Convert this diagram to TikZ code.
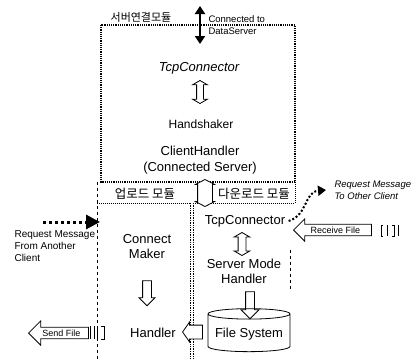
\documentclass[tikz,border=0pt]{standalone}
\usepackage{fontspec}
\setmainfont{Liberation Sans}
\newfontfamily\kofont{Noto Sans CJK KR}
\usetikzlibrary{shapes.arrows,shapes.geometric,arrows.meta}

\tikzset{
  txt/.style={font=\fontsize{13}{15}\selectfont, align=center},
  smalltxt/.style={font=\fontsize{9.5}{12}\selectfont, align=left},
  modname/.style={font=\kofont\fontsize{11}{12}\selectfont},
  hollow/.style={draw, line width=0.8pt, fill=white, minimum width=0pt},
  downarrow/.style={hollow, single arrow, shape border rotate=270},
  dblarrow/.style={hollow, double arrow, shape border rotate=90, double arrow tip angle=120},
  filearrow/.style={hollow, single arrow, shape border rotate=180,
    font=\fontsize{9}{10}\selectfont, inner sep=2pt}
}

\begin{document}
\begin{tikzpicture}[x=1pt, y=-1pt]
    \useasboundingbox (0,0) rectangle (416,359);

    % module borders
    \draw[densely dotted, line width=1.2pt] (101,25) rectangle (295,182);
    \draw[densely dotted, line width=1pt] (97,203) -- (295,203);
    \draw[densely dotted, line width=1pt] (295,182) -- (295,203);
    \draw[dashed] (97,182) -- (97,359);
    \draw[densely dotted, line width=0.7pt, double, double distance=2pt] (192,203) -- (192,359);
    \draw[dashed, thin] (290,250) -- (290,290);

    \node[modname] (srvmod) at (141,17) {서버연결모듈};
    \node[modname, font=\kofont\fontsize{12.5}{13}\selectfont] (upmod) at (145,194) {업로드 모듈};
    \node[modname, font=\kofont\fontsize{12.5}{13}\selectfont] (downmod) at (254,194) {다운로드 모듈};

    % server connection module
    \coordinate (dsup) at (200,6);
    \coordinate (dsdown) at (200,44);
    \draw[line width=2.5pt, {Triangle[length=8pt,width=10pt]}-{Triangle[length=8pt,width=10pt]}] (dsup) -- (dsdown);
    \node[smalltxt, anchor=west] (dstxt) at (205,25) {Connected to\\DataServer};

    \node[txt, font=\fontsize{13}{15}\selectfont\itshape] (tcp1) at (199,68) {TcpConnector};
    \node[dblarrow, inner sep=3pt, minimum height=23pt, double arrow head extend=4pt] (a1) at (200,92) {};
    \node[txt, font=\fontsize{12}{14}\selectfont] (hs) at (201,124) {Handshaker};
    \node[txt, font=\fontsize{13}{16}\selectfont] (ch) at (200,160) {ClientHandler\\(Connected Server)};

    \node[dblarrow, inner sep=7pt, minimum height=27pt, double arrow head extend=2pt,
      double arrow tip angle=125] (a2) at (205,193) {};

    % upload module
    \coordinate (rqs) at (43,222);
    \coordinate (rqe) at (100,222);
    \draw[dash pattern=on 3pt off 3pt, line width=3pt, -{Triangle[length=14pt,width=14pt]}] (rqs) -- (rqe);
    \node[smalltxt, font=\fontsize{10}{12}\selectfont, anchor=north west] (rqtxt) at (11,227) {Request Message\\From Another\\Client};

    \node[txt] (cm) at (147,247) {Connect\\Maker};
    \node[downarrow, inner sep=4pt, minimum height=25pt, single arrow head extend=3.5pt] (a3) at (147,291) {};
    \node[txt] (hd) at (153,333) {Handler};

    \node[filearrow, anchor=tip, minimum height=60pt, single arrow head extend=6.5pt] (send) at (28,333) {Send File};
    \draw[thin] (90,326) -- (90,339) (94,326) -- (94,339) (97,326) -- (97,339) (101,326) -- (104,326) -- (104,339) -- (101,339);

    % download module
    \node[txt] (tcp2) at (245,221) {TcpConnector};
    \node[dblarrow, inner sep=3.5pt, minimum height=23pt, double arrow head extend=4pt] (a4) at (242,244) {};
    \node[txt] (smh) at (244,271) {Server Mode\\Handler};
    \node[downarrow, inner sep=4pt, minimum height=27pt, single arrow head extend=4.5pt] (a5) at (250,303) {};
    \node[cylinder, shape border rotate=90, draw, line width=0.8pt, aspect=0.14,
      minimum width=82pt, minimum height=43pt, txt, font=\fontsize{13}{15}\selectfont] (fs) at (249,334) {File System};
    \node[hollow, single arrow, shape border rotate=180, inner sep=6.5pt, minimum height=20pt,
      single arrow head extend=3pt, single arrow tip angle=110] (a6) at (195,332) {};

    \node[filearrow, anchor=tip, minimum height=78pt, single arrow head extend=5.5pt] (recv) at (293,230) {Receive File};
    \draw[thin] (383,225) -- (381,225) -- (381,236) -- (383,236) (387,225) -- (387,236) (392,225) -- (394,225) -- (394,236) -- (392,236) (398,225) -- (398,236);

    \coordinate (rohead) at (326,190);
    \draw[dotted, line width=2pt, -{Triangle[length=8pt,width=10pt]}] (tcp2.east) .. controls (308,215) and (304,192) .. (rohead);
    \node[smalltxt, font=\fontsize{9.5}{12}\selectfont\itshape, anchor=west] (rotxt) at (331,190) {Request Message\\To Other Client};
\end{tikzpicture}
\end{document}
